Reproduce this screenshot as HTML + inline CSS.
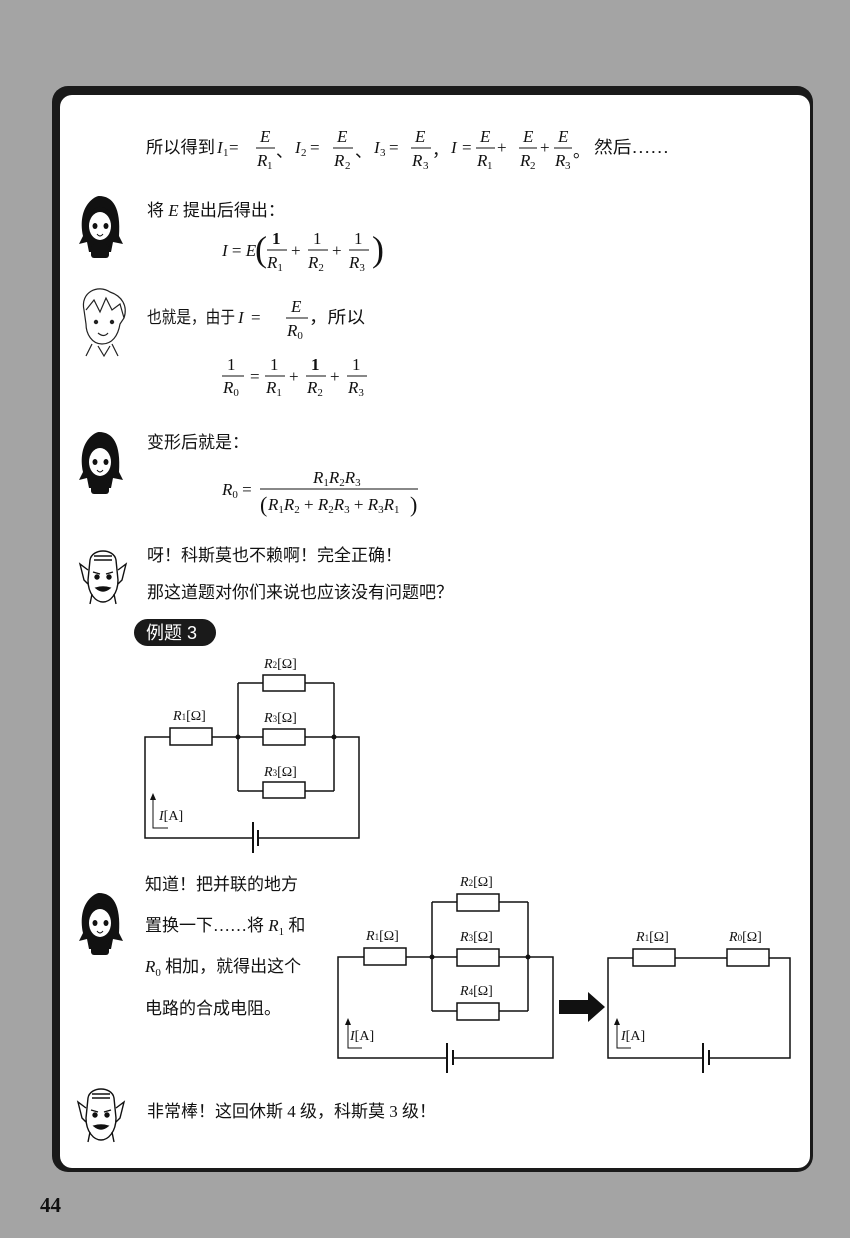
<!DOCTYPE html>
<html><head><meta charset="utf-8"><style>
html,body{margin:0;padding:0;background:#a4a4a4;}
svg{display:block}
.cn{font-family:"Liberation Serif","Noto Sans CJK SC",sans-serif;font-size:17px;fill:#111}
.m{font-family:"Liberation Serif",serif;font-style:italic;font-size:17px;fill:#111}
.n{font-family:"Liberation Serif",serif;font-size:17px;fill:#111}
.s{font-family:"Liberation Serif",serif;font-size:11px;font-style:normal;fill:#111}
.lb{font-family:"Liberation Serif",serif;font-size:14px;fill:#111}
</style></head><body>
<svg width="850" height="1238" viewBox="0 0 850 1238" xmlns="http://www.w3.org/2000/svg">
<rect width="850" height="1238" fill="#a4a4a4"/>
<rect x="52" y="86" width="761" height="1086" rx="16" fill="#1a1a1a"/>
<rect x="60" y="95" width="750" height="1073" rx="12" fill="#fff"/>
<text x="40" y="1212" style="font-family:'Liberation Serif',serif;font-weight:bold;font-size:21px;fill:#111">44</text>

<!-- line 1 -->
<g>
<text class="cn" x="146" y="153" textLength="69" lengthAdjust="spacingAndGlyphs">所以得到</text>
<text class="m" x="217" y="153">I</text><text class="s" x="223" y="156">1</text><text class="n" x="229" y="153">=</text>
<text class="m" x="260" y="142">E</text><line x1="256" y1="148" x2="275" y2="148" stroke="#111"/><text class="m" x="257" y="166">R</text><text class="s" x="267" y="169">1</text>
<text class="cn" x="276" y="157">、</text>
<text class="m" x="295" y="153">I</text><text class="s" x="301" y="156">2</text><text class="n" x="310" y="153">=</text>
<text class="m" x="337" y="142">E</text><line x1="333" y1="148" x2="353" y2="148" stroke="#111"/><text class="m" x="334" y="166">R</text><text class="s" x="345" y="169">2</text>
<text class="cn" x="355" y="157">、</text>
<text class="m" x="374" y="153">I</text><text class="s" x="380" y="156">3</text><text class="n" x="389" y="153">=</text>
<text class="m" x="415" y="142">E</text><line x1="411" y1="148" x2="431" y2="148" stroke="#111"/><text class="m" x="412" y="166">R</text><text class="s" x="423" y="169">3</text>
<text class="cn" x="432" y="156">，</text>
<text class="m" x="451" y="153">I</text><text class="n" x="462" y="153">=</text>
<text class="m" x="480" y="142">E</text><line x1="476" y1="148" x2="495" y2="148" stroke="#111"/><text class="m" x="477" y="166">R</text><text class="s" x="487" y="169">1</text>
<text class="n" x="497" y="153">+</text>
<text class="m" x="523" y="142">E</text><line x1="519" y1="148" x2="537" y2="148" stroke="#111"/><text class="m" x="520" y="166">R</text><text class="s" x="530" y="169">2</text>
<text class="n" x="540" y="153">+</text>
<text class="m" x="558" y="142">E</text><line x1="554" y1="148" x2="572" y2="148" stroke="#111"/><text class="m" x="555" y="166">R</text><text class="s" x="565" y="169">3</text>
<text class="cn" x="573" y="157">。</text>
<text class="cn" x="594" y="153" textLength="75" lengthAdjust="spacingAndGlyphs">然后……</text>
</g>

<defs>
<g id="girl">
<path d="M6 40 C0 10 18 0 22 0 C36 0 44 12 42 40 L46 48 L36 46 L34 56 L12 56 L10 46 L2 48 Z" fill="#111"/>
<ellipse cx="23" cy="30" rx="11" ry="14" fill="#fff"/>
<path d="M11 22 C16 14 26 12 36 22 L34 18 C28 8 16 8 11 22Z" fill="#111"/>
<ellipse cx="18" cy="30" rx="2.5" ry="3" fill="#111"/><ellipse cx="29" cy="30" rx="2.5" ry="3" fill="#111"/>
<path d="M20 38 Q23 42 26 38" stroke="#111" fill="#fff"/>
<rect x="14" y="48" width="18" height="14" rx="3" fill="#111"/>
</g>
<g id="oldman" fill="none" stroke="#111" stroke-width="1.4">
<path d="M12 14 C14 2 36 2 38 14 L40 34 C40 48 32 56 25 56 C18 56 10 48 10 34 Z" fill="#fff"/>
<path d="M10 24 L2 18 L6 34 L10 38 M40 24 L48 18 L44 34 L40 38"/>
<path d="M15 26 L22 28 M28 28 L35 26"/>
<circle cx="19" cy="31" r="2" fill="#111"/><circle cx="31" cy="31" r="2" fill="#111"/>
<path d="M18 42 Q25 48 32 42 Q25 40 18 42Z" fill="#111"/>
<path d="M14 48 L12 58 M36 48 L38 58 M16 10 L34 10 M16 14 L34 14"/>
</g>
</defs>

<use href="#girl" x="77" y="196"/>
<text class="cn" x="147" y="216">将 <tspan class="m">E</tspan> 提出后得出：</text>
<g>
<text class="m" x="222" y="256">I<tspan font-style="normal"> = </tspan>E</text>
<text class="n" x="255" y="261" style="font-size:36px;font-weight:100">(</text>
<text class="n" x="272" y="244" font-weight="bold">1</text><line x1="267" y1="250" x2="287" y2="250" stroke="#111"/><text class="m" x="267" y="268">R<tspan class="s" dy="3">1</tspan></text>
<text class="n" x="291" y="256">+</text>
<text class="n" x="313" y="244">1</text><line x1="308" y1="250" x2="328" y2="250" stroke="#111"/><text class="m" x="308" y="268">R<tspan class="s" dy="3">2</tspan></text>
<text class="n" x="332" y="256">+</text>
<text class="n" x="354" y="244">1</text><line x1="349" y1="250" x2="369" y2="250" stroke="#111"/><text class="m" x="349" y="268">R<tspan class="s" dy="3">3</tspan></text>
<text class="n" x="372" y="261" style="font-size:36px">)</text>
</g>

<!-- boy -->
<g fill="none" stroke="#222" stroke-width="1.2">
<path d="M84 310 C80 292 98 284 110 292 C122 296 128 306 124 318 L120 324 C118 336 112 344 102 344 C92 344 86 334 86 324 Z" fill="#fff"/>
<path d="M86 310 L94 300 L100 312 L106 298 L112 310 L120 304 L124 318"/>
<circle cx="96" cy="322" r="1.6" fill="#222"/><circle cx="112" cy="322" r="1.6" fill="#222"/>
<path d="M98 333 Q104 338 108 333"/>
<path d="M92 344 L86 356 M112 344 L118 356 M98 346 L104 356 L110 346"/>
</g>
<text class="cn" x="147" y="323" textLength="88" lengthAdjust="spacingAndGlyphs">也就是，由于</text>
<text class="m" x="238" y="323">I</text><text class="n" x="251" y="323">=</text>
<text class="m" x="291" y="312">E</text><line x1="286" y1="318" x2="308" y2="318" stroke="#111"/><text class="m" x="287" y="336">R<tspan class="s" dy="3">0</tspan></text>
<text class="cn" x="309" y="323" textLength="56" lengthAdjust="spacingAndGlyphs">，所以</text>
<g>
<text class="n" x="227" y="370">1</text><line x1="222" y1="376" x2="244" y2="376" stroke="#111"/><text class="m" x="223" y="393">R<tspan class="s" dy="3">0</tspan></text>
<text class="n" x="250" y="382">=</text>
<text class="n" x="270" y="370">1</text><line x1="265" y1="376" x2="285" y2="376" stroke="#111"/><text class="m" x="266" y="393">R<tspan class="s" dy="3">1</tspan></text>
<text class="n" x="289" y="382">+</text>
<text class="n" x="311" y="370" font-weight="bold">1</text><line x1="306" y1="376" x2="326" y2="376" stroke="#111"/><text class="m" x="307" y="393">R<tspan class="s" dy="3">2</tspan></text>
<text class="n" x="330" y="382">+</text>
<text class="n" x="352" y="370">1</text><line x1="347" y1="376" x2="367" y2="376" stroke="#111"/><text class="m" x="348" y="393">R<tspan class="s" dy="3">3</tspan></text>
</g>

<use href="#girl" x="77" y="432"/>
<text class="cn" x="147" y="448">变形后就是：</text>
<g>
<text class="m" x="222" y="495">R<tspan class="s" dy="3">0</tspan><tspan dy="-3" font-style="normal"> =</tspan></text>
<text class="m" x="313" y="483">R<tspan class="s" dy="3">1</tspan><tspan dy="-3">R</tspan><tspan class="s" dy="3">2</tspan><tspan dy="-3">R</tspan><tspan class="s" dy="3">3</tspan></text>
<line x1="260" y1="489" x2="418" y2="489" stroke="#111"/>
<text class="n" x="260" y="512" style="font-size:22px">(</text>
<text class="m" x="268" y="510">R<tspan class="s" dy="3">1</tspan><tspan dy="-3">R</tspan><tspan class="s" dy="3">2</tspan><tspan dy="-3" font-style="normal"> + </tspan>R<tspan class="s" dy="3">2</tspan><tspan dy="-3">R</tspan><tspan class="s" dy="3">3</tspan><tspan dy="-3" font-style="normal"> + </tspan>R<tspan class="s" dy="3">3</tspan><tspan dy="-3">R</tspan><tspan class="s" dy="3">1</tspan></text>
<text class="n" x="410" y="512" style="font-size:22px">)</text>
</g>

<use href="#oldman" x="78" y="546"/>
<text class="cn" x="147" y="561">呀！科斯莫也不赖啊！完全正确！</text>
<text class="cn" x="147" y="598">那这道题对你们来说也应该没有问题吧？</text>

<rect x="134" y="619" width="82" height="27" rx="13.5" fill="#1a1a1a"/>
<text x="146" y="639" style="font-family:'Liberation Sans','Noto Sans CJK SC',sans-serif;font-size:18px;fill:#fff">例题 3</text>

<!-- circuit 1 -->
<g stroke="#111" stroke-width="1.5" fill="none">
<path d="M170 737 H145 V838 H253 M258 838 H359 V737 H334 M212 737 H263 M305 737 H334"/>
<path d="M238 683 V791 M334 683 V791 M238 683 H263 M305 683 H334 M238 791 H263 M305 791 H334"/>
<rect x="170" y="728" width="42" height="17" fill="#fff"/>
<rect x="263" y="675" width="42" height="16" fill="#fff"/>
<rect x="263" y="729" width="42" height="16" fill="#fff"/>
<rect x="263" y="782" width="42" height="16" fill="#fff"/>
<path d="M253 822 V853 M258 830 V846" stroke-width="2"/>
<path d="M153 797 V828 H168" stroke-width="1"/>
</g>
<circle cx="238" cy="737" r="2.5" fill="#111"/><circle cx="334" cy="737" r="2.5" fill="#111"/>
<path d="M150 800 L153 793 L156 800Z" fill="#111"/>
<text class="lb" x="173" y="720"><tspan font-style="italic">R</tspan><tspan font-size="9">1</tspan>[Ω]</text>
<text class="lb" x="264" y="668"><tspan font-style="italic">R</tspan><tspan font-size="9">2</tspan>[Ω]</text>
<text class="lb" x="264" y="722"><tspan font-style="italic">R</tspan><tspan font-size="9">3</tspan>[Ω]</text>
<text class="lb" x="264" y="776"><tspan font-style="italic">R</tspan><tspan font-size="9">3</tspan>[Ω]</text>
<text class="lb" x="159" y="820"><tspan font-style="italic">I</tspan>[A]</text>

<use href="#girl" x="77" y="893"/>
<text class="cn" x="145" y="890">知道！把并联的地方</text>
<text class="cn" x="145" y="931">置换一下……将 <tspan class="m">R</tspan><tspan class="s" dy="4">1</tspan><tspan dy="-4"> 和</tspan></text>
<text class="cn" x="145" y="972"><tspan class="m">R</tspan><tspan class="s" dy="4">0</tspan><tspan dy="-4"> 相加，就得出这个</tspan></text>
<text class="cn" x="145" y="1014">电路的合成电阻。</text>

<!-- circuit 2 -->
<g stroke="#111" stroke-width="1.5" fill="none">
<path d="M364 957 H338 V1058 H447 M453 1058 H553 V957 H528 M406 957 H457 M499 957 H528"/>
<path d="M432 902 V1011 M528 902 V1011 M432 902 H457 M499 902 H528 M432 1011 H457 M499 1011 H528"/>
<rect x="364" y="948" width="42" height="17" fill="#fff"/>
<rect x="457" y="894" width="42" height="17" fill="#fff"/>
<rect x="457" y="949" width="42" height="17" fill="#fff"/>
<rect x="457" y="1003" width="42" height="17" fill="#fff"/>
<path d="M447 1043 V1073 M453 1050 V1065" stroke-width="2"/>
<path d="M348 1022 V1048 H362" stroke-width="1"/>
</g>
<circle cx="432" cy="957" r="2.5" fill="#111"/><circle cx="528" cy="957" r="2.5" fill="#111"/>
<path d="M345 1025 L348 1018 L351 1025Z" fill="#111"/>
<text class="lb" x="366" y="940"><tspan font-style="italic">R</tspan><tspan font-size="9">1</tspan>[Ω]</text>
<text class="lb" x="460" y="886"><tspan font-style="italic">R</tspan><tspan font-size="9">2</tspan>[Ω]</text>
<text class="lb" x="460" y="941"><tspan font-style="italic">R</tspan><tspan font-size="9">3</tspan>[Ω]</text>
<text class="lb" x="460" y="995"><tspan font-style="italic">R</tspan><tspan font-size="9">4</tspan>[Ω]</text>
<text class="lb" x="350" y="1040"><tspan font-style="italic">I</tspan>[A]</text>

<path d="M559 1000 H588 V992 L605 1007 L588 1022 V1014 H559Z" fill="#111"/>

<!-- circuit 3 -->
<g stroke="#111" stroke-width="1.5" fill="none">
<path d="M633 958 H608 V1058 H703 M709 1058 H790 V958 H769 M675 958 H727"/>
<rect x="633" y="949" width="42" height="17" fill="#fff"/>
<rect x="727" y="949" width="42" height="17" fill="#fff"/>
<path d="M703 1043 V1073 M709 1050 V1065" stroke-width="2"/>
<path d="M617 1022 V1048 H631" stroke-width="1"/>
</g>
<path d="M614 1025 L617 1018 L620 1025Z" fill="#111"/>
<text class="lb" x="636" y="941"><tspan font-style="italic">R</tspan><tspan font-size="9">1</tspan>[Ω]</text>
<text class="lb" x="729" y="941"><tspan font-style="italic">R</tspan><tspan font-size="9">0</tspan>[Ω]</text>
<text class="lb" x="621" y="1040"><tspan font-style="italic">I</tspan>[A]</text>

<use href="#oldman" x="76" y="1084"/>
<text class="cn" x="147" y="1117">非常棒！这回休斯 4 级，科斯莫 3 级！</text>
</svg>
</body></html>
